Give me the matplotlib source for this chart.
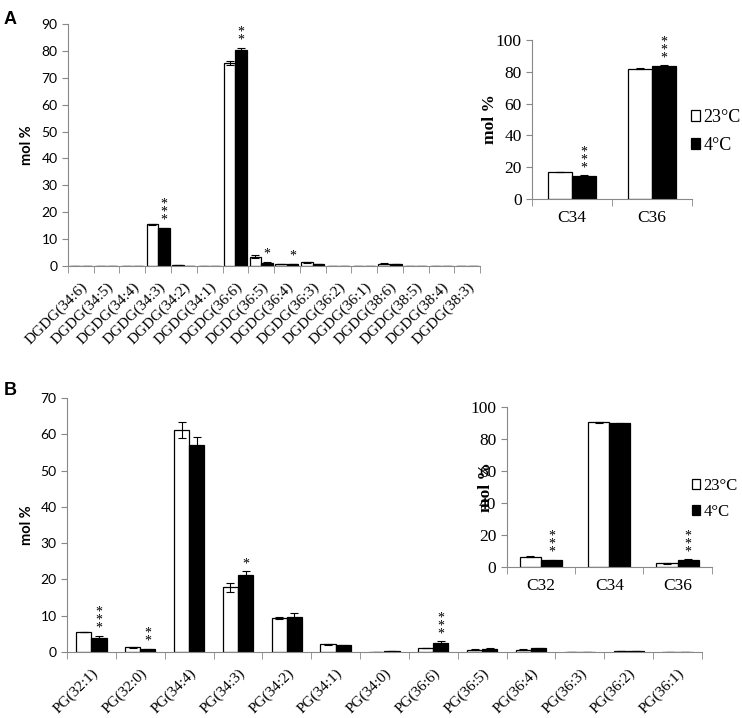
import matplotlib
matplotlib.use("Agg")
import matplotlib.pyplot as plt
import matplotlib.transforms as mtransforms
import numpy as np

plt.rcParams['font.family'] = ['Liberation Serif', 'DejaVu Serif']

# panel A: DGDG species
dgdg_labels = ["DGDG(34:6)", "DGDG(34:5)", "DGDG(34:4)", "DGDG(34:3)", "DGDG(34:2)",
               "DGDG(34:1)", "DGDG(36:6)", "DGDG(36:5)", "DGDG(36:4)", "DGDG(36:3)",
               "DGDG(36:2)", "DGDG(36:1)", "DGDG(38:6)", "DGDG(38:5)", "DGDG(38:4)",
               "DGDG(38:3)"]
dgdg_23 = [0, 0, 0, 15.5, 0.3, 0, 75.6, 3.5, 0.8, 1.4, 0, 0, 0.9, 0, 0, 0]
dgdg_23_err = [0, 0, 0, 0.3, 0.1, 0, 0.8, 0.7, 0.1, 0.2, 0, 0, 0.1, 0, 0, 0]
dgdg_4 = [0, 0, 0, 14.0, 0.1, 0, 80.2, 1.2, 0.7, 0.8, 0, 0, 0.7, 0, 0, 0]
dgdg_4_err = [0, 0, 0, 0.3, 0.05, 0, 1.0, 0.4, 0.1, 0.1, 0, 0, 0.1, 0, 0, 0]
dgdg_sig = ["", "", "", "***", "", "", "**", "*", "*", "", "", "", "", "", "", ""]

dgdg_sum_labels = ["C34", "C36"]
dgdg_sum_23 = [17.0, 82.0]
dgdg_sum_23_err = [0.3, 0.2]
dgdg_sum_4 = [14.5, 83.8]
dgdg_sum_4_err = [0.3, 0.3]
dgdg_sum_sig = ["***", "***"]

# panel B: PG species
pg_labels = ["PG(32:1)", "PG(32:0)", "PG(34:4)", "PG(34:3)", "PG(34:2)", "PG(34:1)",
             "PG(34:0)", "PG(36:6)", "PG(36:5)", "PG(36:4)", "PG(36:3)", "PG(36:2)",
             "PG(36:1)"]
pg_23 = [5.5, 1.3, 61.3, 17.8, 9.3, 2.1, 0.1, 1.1, 0.6, 0.6, 0, 0.2, 0]
pg_23_err = [0.1, 0.2, 2.2, 1.3, 0.3, 0.2, 0, 0.1, 0.1, 0.1, 0, 0, 0]
pg_4 = [3.9, 0.7, 57.0, 21.1, 9.7, 1.8, 0.2, 2.5, 0.9, 1.0, 0.1, 0.2, 0]
pg_4_err = [0.5, 0.2, 2.3, 1.2, 1.0, 0.1, 0, 0.4, 0.1, 0.2, 0, 0, 0]
pg_sig = ["***", "**", "", "*", "", "", "", "***", "", "", "", "", ""]

pg_sum_labels = ["C32", "C34", "C36"]
pg_sum_23 = [6.5, 90.5, 2.2]
pg_sum_23_err = [0.1, 0.3, 0.3]
pg_sum_4 = [4.3, 89.8, 4.5]
pg_sum_4_err = [0.3, 0.3, 0.3]
pg_sum_sig = ["***", "", "***"]


def bar_panel(ax, labels, v23, e23, v4, e4, sig, width, ymax, ystep,
              inset, ylab_x):
    x = np.arange(len(labels))
    ekw = dict(ecolor="black", elinewidth=0.8, capsize=3, capthick=0.8)
    ax.bar(x - width / 2, v23, width, yerr=e23, color="white", edgecolor="black",
           linewidth=0.9, error_kw=ekw, label="23\u00b0C")
    ax.bar(x + width / 2, v4, width, yerr=e4, color="black", edgecolor="black",
           linewidth=0.9, error_kw=ekw, label="4\u00b0C")
    for i, s in enumerate(sig):
        if s:
            top = v4[i] + e4[i]
            ax.text(x[i] + width / 2, top + ymax * 0.004, "\n".join(s), ha="center",
                    va="bottom", fontsize=10, linespacing=0.5)
    ax.set_xlim(-0.5, len(labels) - 0.5)
    ax.set_ylim(0, ymax)
    ax.set_yticks(np.arange(0, ymax + 0.1, ystep))
    ax.set_xticks(x)
    if inset:
        ax.set_xticklabels(labels, fontsize=12.5)
        ax.tick_params(axis="y", labelsize=12.5, length=4, color="#888888")
        ax.set_ylabel("mol %", fontsize=12.5, fontweight="bold")
        ax.tick_params(axis="x", which="major", length=0, pad=8)
    else:
        ax.set_xticklabels(labels, rotation=45, ha="right", rotation_mode="anchor",
                           fontsize=11)
        shift = mtransforms.ScaledTranslation(6 / 100, 0, ax.figure.dpi_scale_trans)
        for t in ax.get_xticklabels():
            t.set_transform(t.get_transform() + shift)
        ax.tick_params(axis="y", labelsize=10, length=4, color="#888888")
        for t in ax.get_yticklabels():
            t.set_family("Lato")
        ax.set_ylabel("mol %", fontsize=10.5, fontweight="bold", family="Lato")
        ax.tick_params(axis="x", which="major", length=0, pad=10)
    ax.yaxis.set_label_coords(ylab_x, 0.5)
    ax.set_xticks(np.arange(-0.5, len(labels)), minor=True)
    ax.tick_params(axis="x", which="minor", length=5, color="#888888", direction="out")
    for side in ["top", "right"]:
        ax.spines[side].set_visible(False)
    for side in ["left", "bottom"]:
        ax.spines[side].set_color("#888888")


fig = plt.figure(figsize=(7.42, 7.18), dpi=100)

axA = fig.add_axes([0.0916, 0.6295, 0.5554, 0.3371])
bar_panel(axA, dgdg_labels, dgdg_23, dgdg_23_err, dgdg_4, dgdg_4_err, dgdg_sig,
          0.45, 90, 10, False, -0.082)

axAi = fig.add_axes([0.717, 0.7228, 0.2156, 0.2215])
bar_panel(axAi, dgdg_sum_labels, dgdg_sum_23, dgdg_sum_23_err, dgdg_sum_4,
          dgdg_sum_4_err, dgdg_sum_sig, 0.3, 100, 20, True, -0.21)

axB = fig.add_axes([0.0903, 0.0919, 0.8557, 0.3538])
bar_panel(axB, pg_labels, pg_23, pg_23_err, pg_4, pg_4_err, pg_sig,
          0.31, 70, 10, False, -0.052)

axBi = fig.add_axes([0.683, 0.2103, 0.2763, 0.2228])
bar_panel(axBi, pg_sum_labels, pg_sum_23, pg_sum_23_err, pg_sum_4, pg_sum_4_err,
          pg_sum_sig, 0.31, 100, 20, True, -0.06)

legend_kw = dict(loc="center left", frameon=False, handlelength=0.5,
                 handleheight=0.5, handletextpad=0.2, labelspacing=0.6,
                 borderaxespad=0.0, borderpad=0.0, bbox_transform=fig.transFigure)
axAi.legend(bbox_to_anchor=(0.931, 0.817), fontsize=13, **legend_kw)
axBi.legend(bbox_to_anchor=(0.932, 0.305), fontsize=12, **legend_kw)

fig.text(0.005, 0.985, "A", fontsize=13, fontweight="bold", family="Liberation Sans",
         va="top")
fig.text(0.005, 0.468, "B", fontsize=13, fontweight="bold", family="Liberation Sans",
         va="top")

fig.savefig("out.png", dpi=100)
